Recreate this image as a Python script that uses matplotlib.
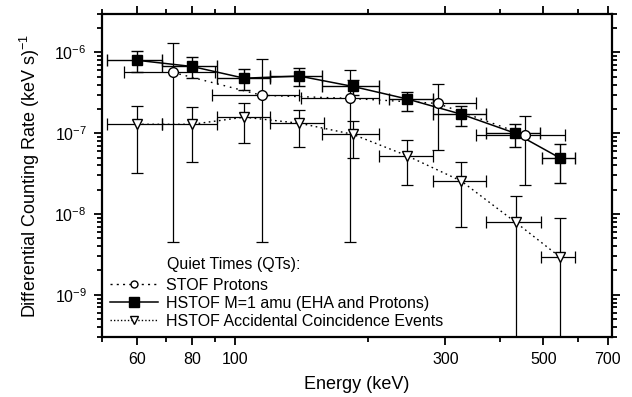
import matplotlib
matplotlib.use("Agg")
import matplotlib.pyplot as plt
from matplotlib.ticker import FixedLocator, NullFormatter, LogLocator
from matplotlib.lines import Line2D

#### data

# HSTOF M=1 amu (EHA and Protons)
sq_e = [60, 80, 105, 140, 185, 246, 326, 432, 547]
sq_r = [8.0e-7, 6.7e-7, 4.8e-7, 5.1e-7, 3.8e-7, 2.65e-7, 1.72e-7, 1.0e-7, 4.9e-8]
sq_lo = [5.7e-7, 4.8e-7, 3.4e-7, 3.8e-7, 3.0e-7, 1.9e-7, 1.22e-7, 6.7e-8, 2.4e-8]
sq_hi = [1.03e-6, 8.7e-7, 6.2e-7, 6.5e-7, 4.6e-7, 3.2e-7, 2.16e-7, 1.29e-7, 7.3e-8]
sq_emin = [51.3, 68.4, 91, 120, 158, 223, 281, 371, 497]
sq_emax = [68.4, 91, 120, 158, 212, 281, 371, 492, 590]

# STOF Protons
c_e = [72.4, 115, 182, 288, 455]
c_r = [5.66e-7, 2.95e-7, 2.7e-7, 2.34e-7, 9.5e-8]
c_lo = [4.5e-9, 4.5e-9, 4.5e-9, 6.2e-8, 2.3e-8]
c_hi = [1.32e-6, 8.4e-7, 6.0e-7, 4.1e-7, 1.62e-7]
c_emin = [56.1, 89, 141, 281, 352]
c_emax = [90, 140, 212, 352, 561]

# HSTOF Accidental Coincidence Events
t_e = [60, 80, 105, 140, 185, 245, 326, 433, 545]
t_r = [1.29e-7, 1.29e-7, 1.58e-7, 1.33e-7, 9.7e-8, 5.3e-8, 2.56e-8, 7.9e-9, 2.95e-9]
t_lo = [3.2e-8, 4.4e-8, 7.5e-8, 6.7e-8, 4.9e-8, 2.3e-8, 6.9e-9, 1e-10, 1e-10]
t_hi = [2.2e-7, 2.1e-7, 2.34e-7, 1.92e-7, 1.4e-7, 8.2e-8, 4.4e-8, 1.67e-8, 8.9e-9]
t_emin = [51.3, 68.4, 91, 120, 158, 212, 281, 371, 495]
t_emax = [68.4, 91, 120, 159, 212, 281, 371, 495, 590]

x_major = [60, 80, 100, 300, 500, 700]
x_minor = [50, 70, 90, 200, 400, 600]

#### style

plt.rcParams['font.family'] = ['Liberation Sans', 'DejaVu Sans']
plt.rcParams['mathtext.fontset'] = 'custom'
plt.rcParams['mathtext.rm'] = 'Liberation Sans'
plt.rcParams['mathtext.it'] = 'Liberation Sans'


def errs(vals, lo, hi):
    """ asymmetric error arrays from bounds """
    return [[v - l for v, l in zip(vals, lo)], [h - v for v, h in zip(vals, hi)]]


def main():
    fig = plt.figure(figsize=(6.32, 3.97), dpi=100)
    ax = fig.add_axes([0.1614, 0.151, 0.8066, 0.814])
    ax.set_xscale('log')
    ax.set_yscale('log')

    # error bars
    ax.errorbar(c_e, c_r, yerr=errs(c_r, c_lo, c_hi), xerr=errs(c_e, c_emin, c_emax),
                fmt='none', ecolor='black', elinewidth=0.9, capsize=4.5, capthick=0.9, zorder=2)
    ax.errorbar(t_e, t_r, yerr=errs(t_r, t_lo, t_hi), xerr=errs(t_e, t_emin, t_emax),
                fmt='none', ecolor='black', elinewidth=0.9, capsize=4.5, capthick=0.9, zorder=2)
    ax.errorbar(sq_e, sq_r, yerr=errs(sq_r, sq_lo, sq_hi), xerr=errs(sq_e, sq_emin, sq_emax),
                fmt='none', ecolor='black', elinewidth=1.0, capsize=4.5, capthick=1.0, zorder=2)

    # lines + markers
    ax.plot(c_e, c_r, color='black', lw=1.0, ls=(0, (1.2, 3.5)), zorder=3)
    ax.plot(c_e, c_r, ls='none', marker='o', ms=7, mfc='white', mec='black', mew=1.0, zorder=4)
    ax.plot(t_e, t_r, color='black', lw=1.0, ls=(0, (1.2, 2.5)), zorder=3)
    ax.plot(t_e, t_r, ls='none', marker='v', ms=7, mfc='white', mec='black', mew=1.0, zorder=4)
    ax.plot(sq_e, sq_r, color='black', lw=1.1, ls='-', zorder=3)
    ax.plot(sq_e, sq_r, ls='none', marker='s', ms=7.5, mfc='black', mec='black', zorder=4)

    # axes
    ax.set_xlim(50, 715)
    ax.set_ylim(3e-10, 3e-6)
    ax.xaxis.set_major_locator(FixedLocator(x_major))
    ax.xaxis.set_minor_locator(FixedLocator(x_minor))
    ax.xaxis.set_minor_formatter(NullFormatter())
    ax.set_xticklabels([str(v) for v in x_major])
    ax.yaxis.set_major_locator(LogLocator(base=10, numticks=20))
    ax.yaxis.set_minor_locator(LogLocator(base=10, subs=range(2, 10), numticks=20))
    ax.yaxis.set_minor_formatter(NullFormatter())

    for s in ax.spines.values():
        s.set_linewidth(1.6)
    ax.tick_params(which='both', direction='out', top=True, right=True, width=1.3)
    ax.tick_params(which='major', length=6, labelsize=11.5, pad=5)
    ax.tick_params(which='minor', length=3.5)

    ax.set_xlabel('Energy (keV)', fontsize=13, labelpad=6)
    ax.set_ylabel(r'Differential Counting Rate (keV s)$^{-1}$', fontsize=13, labelpad=9)

    # legend
    handles = [
        Line2D([], [], color='black', lw=1.0, ls=(0, (1.5, 3)), marker='o', ms=5,
               mfc='white', mec='black'),
        Line2D([], [], color='black', lw=1.1, ls='-', marker='s', ms=6.5, mfc='black'),
        Line2D([], [], color='black', lw=1.0, ls=(0, (1, 1.5)), marker='v', ms=6,
               mfc='white', mec='black'),
    ]
    labels = ['STOF Protons', 'HSTOF M=1 amu (EHA and Protons)',
              'HSTOF Accidental Coincidence Events']
    ax.legend(handles, labels, loc='lower left', bbox_to_anchor=(0.0, 0.0),
              frameon=False, fontsize=11.5, handlelength=3.0, handletextpad=0.5,
              labelspacing=0.2, borderaxespad=0.3, borderpad=0.2)
    ax.text(0.128, 0.225, 'Quiet Times (QTs):', transform=ax.transAxes,
            fontsize=11.5, ha='left', va='center')

    fig.savefig('out.png', dpi=100)


if __name__ == "__main__":
    main()
